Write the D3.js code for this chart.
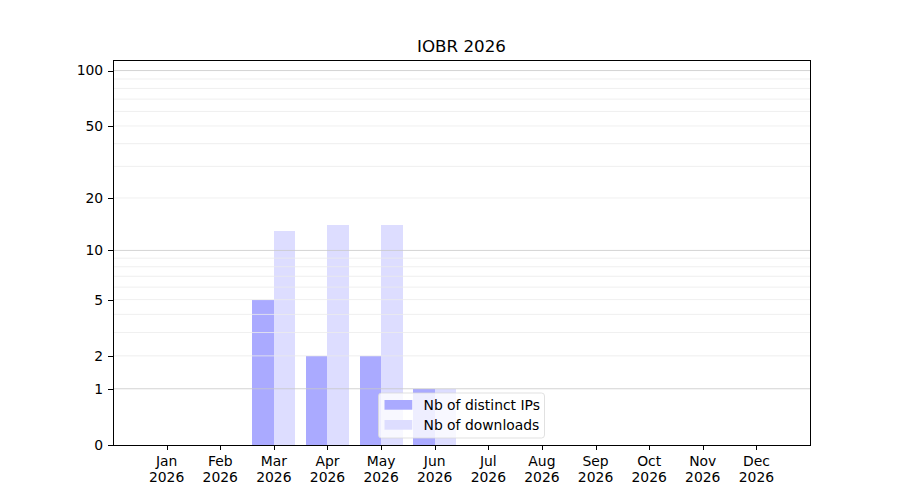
<!DOCTYPE html>
<html><head><meta charset="utf-8">
<script src="https://cdn.jsdelivr.net/npm/d3@7"></script>
<style>body{margin:0;background:#fff}svg{display:block}text{font-family:"DejaVu Sans",sans-serif;fill:#000}</style>
</head><body>
<svg id="c" width="900" height="500"></svg>
<script>
const title = "IOBR 2026";
const months = ["Jan","Feb","Mar","Apr","May","Jun","Jul","Aug","Sep","Oct","Nov","Dec"];
const yearLabel = "2026";
const distinctIPs = [0,0,5,2,2,1,0,0,0,0,0,0];
const downloads = [0,0,13,14,14,1,0,0,0,0,0,0];
const yTickLabels = [0,1,2,5,10,20,50,100];
const yMajorGrid = [1,10,100];
const yMinorGrid = [2,3,4,5,6,7,8,9,20,30,40,50,60,70,80,90];
const seriesNames = ["Nb of distinct IPs","Nb of downloads"];
const colors = ["#aaaaff","#ddddff"];

const L=113,R=810,T=60,B=445;
const svg=d3.select("#c");
const x=d3.scaleLinear().domain([-1,12]).range([L,R]);
const y=d3.scaleSymlog().constant(1).domain([0,114]).range([B,T]);
const bw=0.4;

// bars
svg.append("g").attr("shape-rendering","crispEdges").selectAll("rect").data(distinctIPs).join("rect")
  .attr("x",(d,i)=>x(i-bw)).attr("width",(d,i)=>x(i)-x(i-bw))
  .attr("y",d=>y(d)).attr("height",d=>B-y(d)).attr("fill",colors[0]);
svg.append("g").attr("shape-rendering","crispEdges").selectAll("rect").data(downloads).join("rect")
  .attr("x",(d,i)=>x(i)).attr("width",(d,i)=>x(i+bw)-x(i))
  .attr("y",d=>y(d)).attr("height",d=>B-y(d)).attr("fill",colors[1]);

// grid
svg.append("g").selectAll("line").data(yMinorGrid).join("line")
  .attr("x1",L).attr("x2",R).attr("y1",d=>y(d)).attr("y2",d=>y(d))
  .attr("stroke","#ebebeb").attr("stroke-width",0.8);
svg.append("g").selectAll("line").data(yMajorGrid).join("line")
  .attr("x1",L).attr("x2",R).attr("y1",d=>y(d)).attr("y2",d=>y(d))
  .attr("stroke","#c8c8c8").attr("stroke-width",0.8);

// axes
const yAx=svg.append("g").attr("transform",`translate(${L},0)`)
  .call(d3.axisLeft(y).tickValues(yTickLabels).tickFormat(d3.format("d")).tickSize(4.9).tickPadding(4.9));
const xAx=svg.append("g").attr("transform",`translate(0,${B})`)
  .call(d3.axisBottom(x).tickValues(d3.range(12)).tickFormat(()=>"").tickSize(4.9));
[yAx,xAx].forEach(g=>{g.select(".domain").remove();g.selectAll("line").attr("stroke","#000").attr("stroke-width",1).attr("shape-rendering","crispEdges");
  g.selectAll("text").attr("font-size","13.9px").attr("font-family","DejaVu Sans").attr("fill","#000");});
xAx.selectAll(".tick").append("text").attr("text-anchor","middle").attr("font-size","13.9px").attr("fill","#000")
  .selectAll("tspan").data(d=>[months[d],yearLabel]).join("tspan").attr("x",-0.5).attr("y",(d,i)=>20.5+i*16).text(d=>d);

// frame
svg.append("rect").attr("x",L).attr("y",T).attr("width",R-L).attr("height",B-T)
  .attr("fill","none").attr("stroke","#000").attr("stroke-width",1).attr("shape-rendering","crispEdges");

// title
svg.append("text").attr("x",(L+R)/2).attr("y",T-8).attr("text-anchor","middle").attr("font-size","16.7px").text(title);

// legend
const lw=166,lh=45,lx=(L+R)/2-lw/2,ly=B-7-lh;
const lg=svg.append("g").attr("transform",`translate(${lx},${ly})`);
lg.append("rect").attr("width",lw).attr("height",lh).attr("rx",3).attr("fill","#fff").attr("fill-opacity",0.8)
  .attr("stroke","#d9d9d9").attr("stroke-width",0.8);
seriesNames.forEach((n,i)=>{
  lg.append("rect").attr("x",6).attr("y",7+i*20).attr("width",27.8).attr("height",9.7).attr("fill",colors[i]);
  lg.append("text").attr("x",45).attr("y",16.5+i*20).attr("font-size","13.9px").text(n);
});
</script></body></html>
